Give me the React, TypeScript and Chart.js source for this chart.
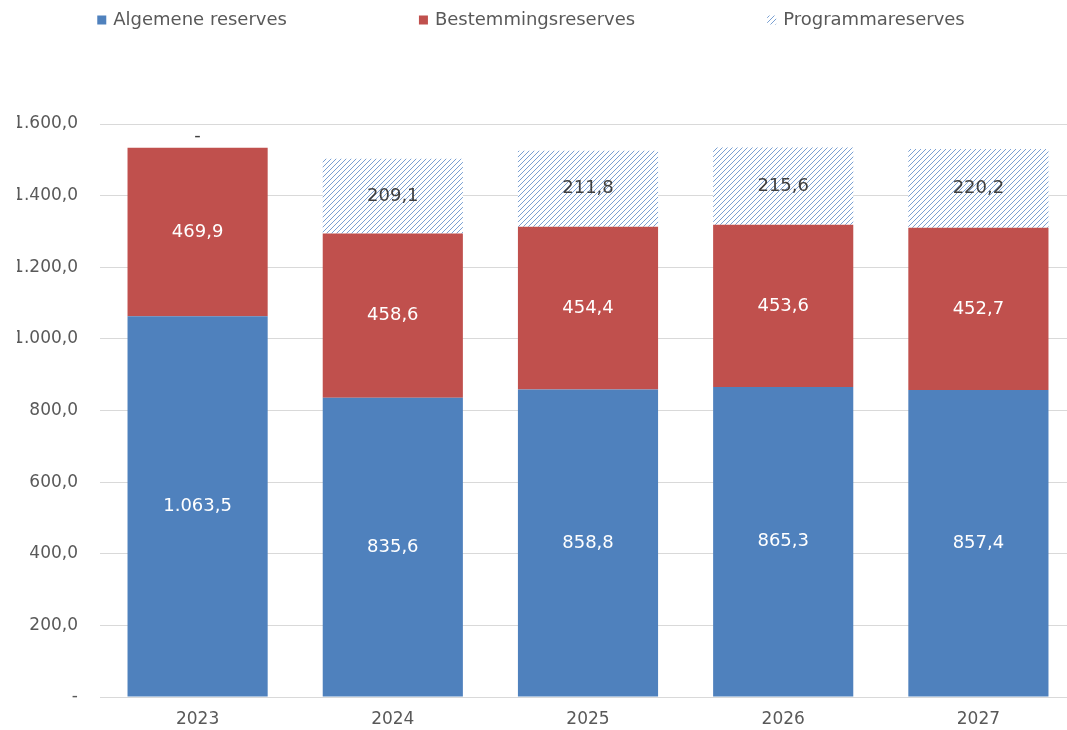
import React, { useEffect, useRef } from "react";
import { Chart, registerables } from "chart.js";

Chart.register(...registerables);

const categories = ["2023", "2024", "2025", "2026", "2027"];
const algemeneReserves = [1063.5, 835.6, 858.8, 865.3, 857.4];
const bestemmingsReserves = [469.9, 458.6, 454.4, 453.6, 452.7];
const programmaReserves = [0, 209.1, 211.8, 215.6, 220.2];
const seriesNames = ["Algemene reserves", "Bestemmingsreserves", "Programmareserves"];
const yMin = 0;
const yMax = 1600;
const yStep = 200;

const BLUE = "#4f81bd";
const RED = "#c0504d";
const TEXT = "#595959";
const FONT = "'DejaVu Sans', sans-serif";

function fmt(v: number): string {
  const s = v.toFixed(1);
  const [i, d] = s.split(".");
  const ii = i.replace(/\B(?=(\d{3})+(?!\d))/g, ".");
  return ii + "," + d;
}

function makeHatch(): CanvasPattern | string {
  const size = 5;
  const c = document.createElement("canvas");
  c.width = size;
  c.height = size;
  const ctx = c.getContext("2d");
  if (!ctx) return "#ffffff";
  ctx.fillStyle = "#ffffff";
  ctx.fillRect(0, 0, size, size);
  ctx.strokeStyle = "#7aa0d2";
  ctx.lineWidth = 1;
  ctx.beginPath();
  ctx.moveTo(-1, size + 1);
  ctx.lineTo(size + 1, -1);
  ctx.moveTo(-1, 1);
  ctx.lineTo(1, -1);
  ctx.moveTo(size - 1, size + 1);
  ctx.lineTo(size + 1, size - 1);
  ctx.stroke();
  const p = ctx.createPattern(c, "repeat");
  return p || "#ffffff";
}

export default function App() {
  const ref = useRef<HTMLCanvasElement | null>(null);

  useEffect(() => {
    if (!ref.current) return;
    const hatch = makeHatch();
    const labelColors = ["#ffffff", "#ffffff", "#404040"];

    const dataLabels = {
      id: "dataLabels",
      afterDatasetsDraw(chart: any) {
        const ctx = chart.ctx;
        ctx.save();
        ctx.font = `18px ${FONT}`;
        ctx.textAlign = "center";
        ctx.textBaseline = "middle";
        chart.data.datasets.forEach((ds: any, di: number) => {
          const meta = chart.getDatasetMeta(di);
          meta.data.forEach((el: any, i: number) => {
            const v = ds.data[i] as number;
            ctx.fillStyle = labelColors[di];
            if (v === 0) {
              ctx.fillStyle = "#404040";
              ctx.fillText("-", el.x, el.y - 12);
            } else {
              ctx.fillText(fmt(v), el.x, (el.y + el.base) / 2);
            }
          });
        });
        ctx.restore();
      },
    };

    const legendPlugin = {
      id: "customLegend",
      afterDraw(chart: any) {
        const ctx = chart.ctx;
        ctx.save();
        ctx.font = `18px ${FONT}`;
        ctx.textBaseline = "middle";
        const box = 9;
        const gapText = 7;
        const itemGap = 132;
        const fills = [BLUE, RED, hatch];
        const widths = seriesNames.map((n) => box + gapText + ctx.measureText(n).width);
        const total = widths.reduce((a, b) => a + b, 0) + itemGap * (seriesNames.length - 1);
        let x = 531 - total / 2;
        const y = 20;
        seriesNames.forEach((n, i) => {
          ctx.fillStyle = fills[i] as any;
          ctx.fillRect(x, y - box / 2, box, box);
          ctx.fillStyle = TEXT;
          ctx.fillText(n, x + box + gapText, y);
          x += widths[i] + itemGap;
        });
        ctx.restore();
      },
    };

    const chart = new Chart(ref.current, {
      type: "bar",
      data: {
        labels: categories,
        datasets: [
          { label: seriesNames[0], data: algemeneReserves, backgroundColor: BLUE },
          { label: seriesNames[1], data: bestemmingsReserves, backgroundColor: RED },
          { label: seriesNames[2], data: programmaReserves, backgroundColor: hatch as any },
        ],
      },
      options: {
        animation: false,
        responsive: false,
        maintainAspectRatio: false,
        layout: { padding: { top: 124, left: 17, right: 0, bottom: 2 } },
        datasets: { bar: { categoryPercentage: 1, barPercentage: 0.718 } },
        plugins: {
          legend: { display: false },
          tooltip: { enabled: false },
        },
        scales: {
          x: {
            stacked: true,
            grid: { display: false, drawTicks: false },
            border: { display: true, color: "#d9d9d9", width: 1 },
            ticks: { color: TEXT, font: { family: FONT, size: 17 }, padding: 12 },
            afterFit: (scale: any) => {
              scale.height = 31;
            },
          },
          y: {
            stacked: true,
            min: yMin,
            max: yMax,
            grid: { color: "#d9d9d9", drawTicks: false },
            border: { display: false },
            ticks: {
              stepSize: yStep,
              color: TEXT,
              font: { family: FONT, size: 17 },
              padding: 22,
              callback: (v: any) => (Number(v) === 0 ? "-" : fmt(Number(v))),
            },
            afterFit: (scale: any) => {
              scale.width = 83;
            },
          },
        },
      },
      plugins: [dataLabels, legendPlugin],
    });
    return () => chart.destroy();
  }, []);

  return (
    <div style={{ position: "fixed", left: 0, top: 0, width: 1076, height: 730, overflow: "hidden", background: "#fff" }}>
      <canvas ref={ref} width={1076} height={730} style={{ display: "block" }} />
    </div>
  );
}
